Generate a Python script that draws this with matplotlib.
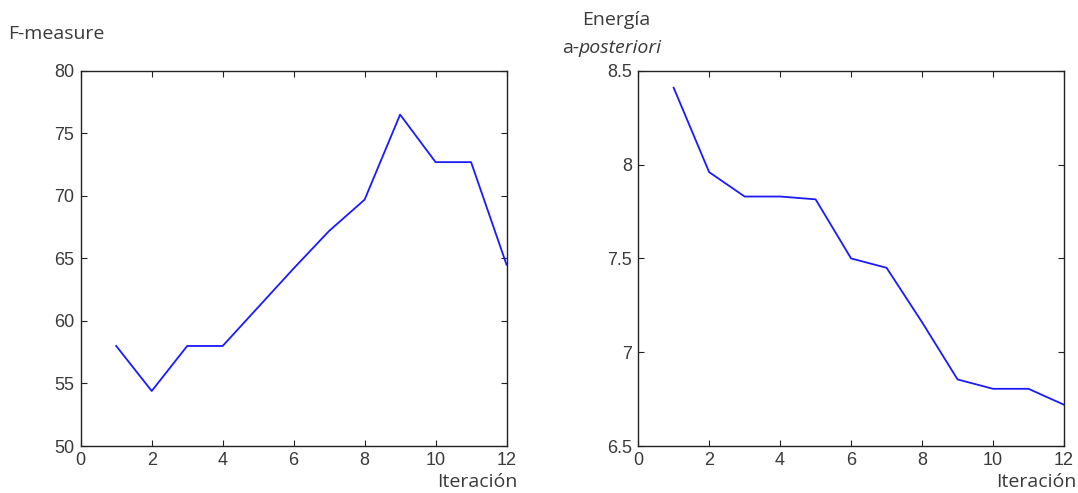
import matplotlib
matplotlib.use("Agg")
import matplotlib.pyplot as plt

# Iteration index shared by both panels
iterations = [1, 2, 3, 4, 5, 6, 7, 8, 9, 10, 11, 12]

# F-measure per iteration (left panel)
f_measure = [58.0, 54.4, 58.0, 58.0, 61.1, 64.2, 67.2, 69.7, 76.5, 72.7, 72.7, 64.5]

# a-posteriori energy per iteration (right panel)
energia = [8.41, 7.96, 7.83, 7.83, 7.815, 7.50, 7.45, 7.16, 6.855, 6.805, 6.805, 6.72]

x_ticks = [0, 2, 4, 6, 8, 10, 12]
f_ticks = [50, 55, 60, 65, 70, 75, 80]
e_ticks = [6.5, 7, 7.5, 8, 8.5]
e_tick_labels = ["6.5", "7", "7.5", "8", "8.5"]

tick_font = "Liberation Sans"
label_font = "Open Sans"
gray = "#3a3a3a"
lbl_size = 14

fig = plt.figure(figsize=(10.78, 4.93), dpi=100)
ax1 = fig.add_axes([0.0749, 0.0953, 0.395, 0.761])
ax2 = fig.add_axes([0.592, 0.0953, 0.395, 0.761])


def style_axis(ax, yticks, ylabels):
    ax.set_xlim(0, 12)
    ax.set_xticks(x_ticks)
    ax.set_yticks(yticks)
    ax.set_xticklabels([str(t) for t in x_ticks], fontfamily=tick_font, fontsize=13, color=gray)
    ax.set_yticklabels(ylabels, fontfamily=tick_font, fontsize=13, color=gray)
    # matlab style: ticks inside, on all four sides
    ax.tick_params(direction="in", top=True, right=True, length=4, width=0.8,
                   color="#222222", pad=4.5)
    for sp in ax.spines.values():
        sp.set_linewidth(1.0)
        sp.set_color("#222222")


# left: F-measure
ax1.plot(iterations, f_measure, color="#1a1aff", linewidth=1.3)
ax1.set_ylim(50, 80)
style_axis(ax1, f_ticks, [str(t) for t in f_ticks])

# right: energy
ax2.plot(iterations, energia, color="#1a1aff", linewidth=1.3)
ax2.set_ylim(6.5, 8.5)
style_axis(ax2, e_ticks, e_tick_labels)

# axis titles
fig.text(0.008, 0.931, "F-measure", fontfamily=label_font, fontsize=lbl_size, color=gray,
         ha="left", va="center")
fig.text(0.540, 0.959, "Energía", fontfamily=label_font, fontsize=lbl_size, color=gray,
         ha="left", va="center")
t_a = fig.text(0.521, 0.892, "a-", fontfamily=label_font, fontsize=lbl_size, color=gray,
               ha="left", va="baseline")
# "posteriori" in italics, glued right after "a-"
ax2.annotate("posteriori", xy=(1, 0), xycoords=t_a, xytext=(0, 0), textcoords="offset points",
             fontfamily=label_font, fontsize=lbl_size, color=gray, style="italic",
             ha="left", va="bottom", annotation_clip=False)

fig.text(0.480, 0.004, "Iteración", fontfamily=label_font, fontsize=lbl_size, color=gray,
         ha="right", va="bottom")
fig.text(0.999, 0.004, "Iteración", fontfamily=label_font, fontsize=lbl_size, color=gray,
         ha="right", va="bottom")

fig.savefig("out.png", dpi=100)
